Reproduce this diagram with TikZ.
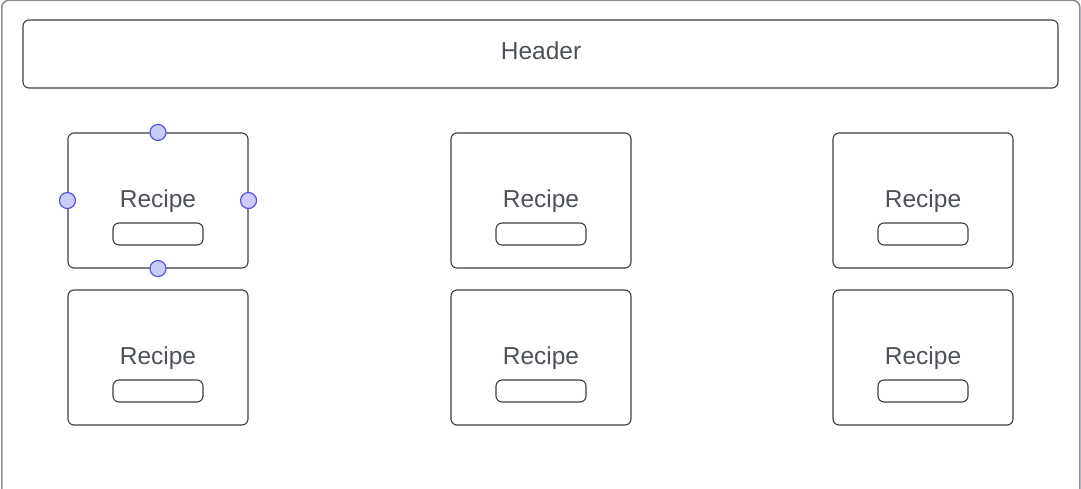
\documentclass[tikz,border=0pt]{standalone}
\usepackage{fontspec}
\setmainfont{Liberation Sans}
\begin{document}
\begin{tikzpicture}[x=1pt,y=-1pt,
  txt/.style={text=textgrey,font=\fontsize{24.5}{28}\selectfont,inner sep=0pt},
  card/.style={draw=linegrey,line width=1.1pt,rounded corners=6pt,minimum width=180pt,minimum height=135pt,inner sep=0pt},
  btn/.style={draw=linegrey,line width=1.1pt,rounded corners=6pt,minimum width=90pt,minimum height=22pt,inner sep=0pt},
  handle/.style={circle,draw=handleblue,fill=handlefill,line width=1.2pt,minimum size=16pt,inner sep=0pt}]
\definecolor{textgrey}{HTML}{4D5159}
\definecolor{linegrey}{HTML}{3A3D45}
\definecolor{framegrey}{HTML}{8C8F96}
\definecolor{handleblue}{HTML}{5353DF}
\definecolor{handlefill}{HTML}{CCCCFA}
\useasboundingbox (0,0) rectangle (1081,488);
\begin{scope}
\clip (0,0) rectangle (1081,488);
\node[draw=framegrey,line width=1.6pt,rounded corners=7pt,minimum width=1078pt,minimum height=540pt,inner sep=0pt,anchor=north west] (frame) at (1,-0.5) {};
\end{scope}
\node[draw=linegrey,line width=1.1pt,rounded corners=6pt,minimum width=1035pt,minimum height=68pt,inner sep=0pt] (header) at (540.5,54) {};
\node[txt] (htext) at (541,51) {Header};
% cards
\foreach \cx/\cy/\n in {158/200.5/a1,541/200.5/b1,923/200.5/c1,158/357.5/a2,541/357.5/b2,923/357.5/c2}{
  \node[card] (card\n) at (\cx,\cy) {};
  \node[txt] (label\n) at (\cx,\cy+0.5) {Recipe};
  \node[btn] (button\n) at (\cx,\cy+33.5) {};
}
% selection handles
\node[handle] (hn) at (carda1.north) {};
\node[handle] (hs) at (carda1.south) {};
\node[handle] (hw) at (carda1.west) {};
\node[handle] (he) at (carda1.east) {};
\end{tikzpicture}
\end{document}
